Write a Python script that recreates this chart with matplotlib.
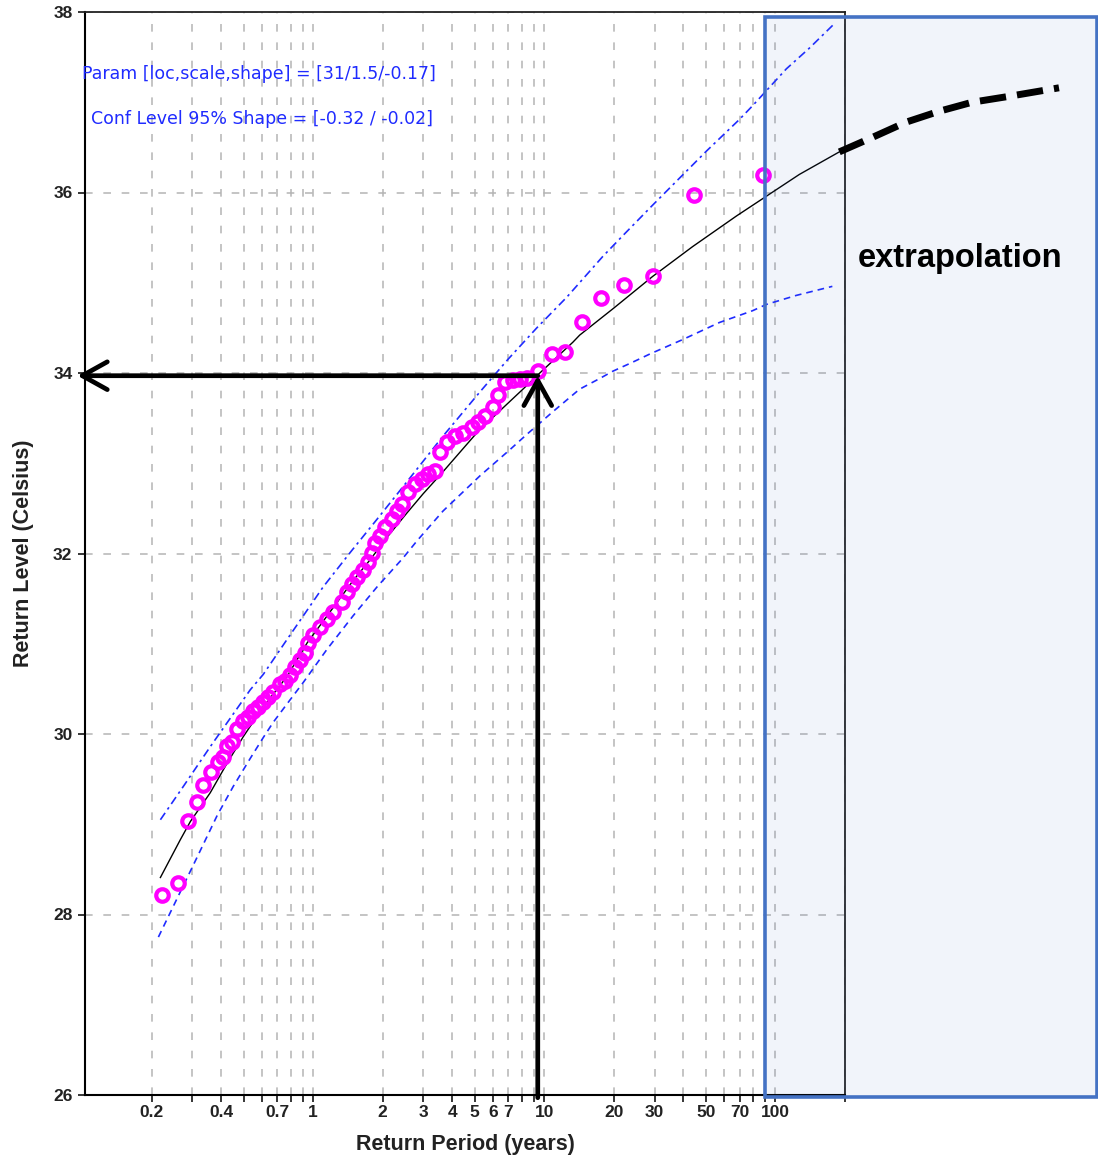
import numpy as np
import matplotlib
matplotlib.use("Agg")
import matplotlib.pyplot as plt
from matplotlib.patches import Rectangle

plt.rcParams['font.family'] = ['Liberation Sans', 'DejaVu Sans']

# ---------------- data ----------------
# observed return levels (empirical return period in years, level in Celsius)
obs_period = [0.2228, 0.2611, 0.2884, 0.3154, 0.3347, 0.3625, 0.3887, 0.4086, 0.4250,
              0.4468, 0.4695, 0.4984, 0.5238, 0.5506, 0.5787, 0.6081, 0.6392, 0.6719,
              0.7200, 0.7568, 0.7955, 0.8360, 0.8787, 0.9235, 0.9515, 1.000, 1.072,
              1.149, 1.220, 1.335, 1.403, 1.474, 1.549, 1.644, 1.728, 1.798, 1.853,
              1.947, 2.046, 2.194, 2.306, 2.424, 2.573, 2.758, 2.957, 3.139, 3.365,
              3.537, 3.792, 4.106, 4.445, 4.861, 5.161, 5.534, 5.993, 6.298, 6.751,
              7.311, 7.839, 8.403, 9.374, 10.78, 12.27, 14.52, 17.54, 22.05, 29.43,
              44.24, 88.76]
obs_level = [28.22, 28.35, 29.04, 29.25, 29.43, 29.58, 29.69, 29.75, 29.87,
             29.91, 30.06, 30.14, 30.19, 30.25, 30.30, 30.36, 30.41, 30.46,
             30.55, 30.59, 30.65, 30.74, 30.82, 30.90, 31.01, 31.10, 31.19,
             31.27, 31.35, 31.46, 31.57, 31.66, 31.74, 31.82, 31.91, 32.01, 32.12,
             32.19, 32.29, 32.38, 32.47, 32.55, 32.68, 32.77, 32.82, 32.88, 32.91,
             33.12, 33.23, 33.30, 33.34, 33.40, 33.46, 33.52, 33.62, 33.76, 33.90,
             33.92, 33.93, 33.94, 34.02, 34.21, 34.23, 34.56, 34.83, 34.97, 35.08,
             35.97, 36.19]

# fitted GEV return level curve
fit_period = [0.2183, 0.2664, 0.2942, 0.3589, 0.4250, 0.4984, 0.6081, 0.7720, 0.9421,
              1.105, 1.489, 1.763, 2.088, 2.547, 2.987, 3.600, 4.445, 5.200, 6.236,
              8.076, 9.563, 13.28, 14.23, 20.0, 29.43, 43.80, 67.85, 87.87, 126.9, 189.0]
fit_level = [28.41, 28.83, 29.03, 29.35, 29.68, 29.97, 30.30, 30.64, 31.01,
             31.25, 31.70, 31.93, 32.18, 32.45, 32.66, 32.89, 33.16, 33.36, 33.55,
             33.82, 34.00, 34.34, 34.42, 34.72, 35.07, 35.40, 35.74, 35.93, 36.20, 36.45]

# 95% confidence bounds
upper_period = [0.2183, 0.2745, 0.3589, 0.5344, 0.6081, 0.7720, 1.105, 1.445, 1.890,
                2.448, 3.644, 5.265, 6.956, 9.281, 12.51, 17.89, 21.83, 29.43, 50.35,
                69.91, 79.56, 111.5, 140.3, 179.8]
upper_level = [29.05, 29.42, 29.86, 30.49, 30.66, 31.05, 31.63, 32.01, 32.38,
               32.74, 33.30, 33.79, 34.15, 34.50, 34.84, 35.29, 35.52, 35.86, 36.46,
               36.81, 36.96, 37.37, 37.60, 37.87]
lower_period = [0.2140, 0.3154, 0.3848, 0.4513, 0.5344, 0.6081, 0.6719, 0.7955, 0.9054,
                1.149, 1.489, 1.890, 2.448, 2.813, 3.644, 5.265, 7.096, 8.403, 10.88,
                14.20, 17.40, 19.80, 24.12, 28.60, 39.66, 57.30, 79.60, 91.45, 123.2,
                176.3]
lower_level = [27.75, 28.64, 29.10, 29.42, 29.73, 29.96, 30.13, 30.38, 30.57,
               30.94, 31.31, 31.63, 31.95, 32.14, 32.47, 32.86, 33.15, 33.32, 33.57,
               33.82, 33.94, 34.02, 34.12, 34.21, 34.37, 34.56, 34.69, 34.76, 34.86,
               34.96]

# hand-drawn extrapolation of the fit beyond the plotted range
extrap_period = [189.0, 262.4, 368.1, 510.9, 709.6, 995.0, 1686.0]
extrap_level = [36.45, 36.61, 36.78, 36.90, 37.00, 37.06, 37.16]

# reading example: 10-year (approx.) return level of 34 C
read_period = 9.37
read_level = 33.97

xtick_major = [0.2, 0.4, 0.7, 1, 2, 3, 4, 5, 6, 7, 10, 20, 30, 50, 70, 100]
xtick_labels = ['0.2', '0.4', '0.7', '1', '2', '3', '4', '5', '6', '7',
                '10', '20', '30', '50', '70', '100']
xtick_minor = [0.3, 0.5, 0.6, 0.8, 0.9, 8, 9, 40, 60, 80, 90, 200]
ytick_vals = [26, 28, 30, 32, 34, 36, 38]

param_text = 'Param [loc,scale,shape] = [31/1.5/-0.17]'
conf_text = 'Conf Level 95% Shape = [-0.32 / -0.02]'

# ---------------- figure ----------------
W, H = 1098, 1156
fig = plt.figure(figsize=(W / 100, H / 100), dpi=100)
ax = fig.add_axes([85 / W, 1 - 1095 / H, 760 / W, 1083 / H])
ax.set_xscale('log')
ax.set_xlim(0.103, 200)
ax.set_ylim(26, 38)

ax.set_xticks(xtick_major)
ax.set_xticklabels(xtick_labels)
ax.set_xticks(xtick_minor, minor=True)
ax.set_xticklabels([''] * len(xtick_minor), minor=True)
ax.set_yticks(ytick_vals)
ax.set_yticklabels([str(v) for v in ytick_vals])

ax.tick_params(axis='both', which='both', direction='out', length=5, width=1.1,
               color='black')
ax.tick_params(axis='x', which='both', pad=2)
ax.tick_params(axis='y', pad=4)
for lab in ax.get_xticklabels() + ax.get_yticklabels():
    lab.set_fontsize(12.5)
    lab.set_fontweight('bold')
    lab.set_color('#222222')

grid_kw = dict(color='#b4b4b4', linestyle=(0, (5, 7)), linewidth=1.1)
ax.grid(which='both', axis='x', **grid_kw)
ax.grid(which='major', axis='y', **grid_kw)
ax.set_axisbelow(True)

for side in ['left', 'bottom']:
    ax.spines[side].set_linewidth(1.5)
    ax.spines[side].set_color('black')
for side in ['top', 'right']:
    ax.spines[side].set_linewidth(1.3)
    ax.spines[side].set_color('#222222')

ax.set_xlabel('Return Period (years)', fontsize=15.5, fontweight='bold',
              color='#222222', labelpad=10)
ax.set_ylabel('Return Level (Celsius)', fontsize=15.5, fontweight='bold',
              color='#222222', labelpad=14)

blue = '#1f2bff'
ax.plot(upper_period, upper_level, color=blue, lw=1.2,
        linestyle=(0, (5, 2.5, 1.5, 2.5)), zorder=2)
ax.plot(lower_period, lower_level, color=blue, lw=1.2,
        linestyle=(0, (4, 3)), zorder=2)
ax.plot(fit_period, fit_level, color='black', lw=1.0, zorder=3)
ax.plot(obs_period, obs_level, linestyle='none', marker='o', ms=9.0,
        mfc='none', mec='#ff00ff', mew=3.0, zorder=4)

ax.text(-0.004, 0.943, param_text, transform=ax.transAxes, color=blue,
        fontsize=12.5, family='DejaVu Sans', ha='left', va='center', zorder=6)
ax.text(0.008, 0.901, conf_text, transform=ax.transAxes, color=blue,
        fontsize=12.5, family='DejaVu Sans', ha='left', va='center', zorder=6)

# arrows reading off the return level
arrow_kw = dict(arrowstyle='->,head_length=0.9,head_width=0.5', lw=3.4,
                color='black', shrinkA=0, shrinkB=0, mutation_scale=20)
ax.annotate('', xy=(0.0955, read_level), xytext=(read_period, read_level),
            arrowprops=arrow_kw, annotation_clip=False, zorder=7)
ax.annotate('', xy=(read_period, read_level), xytext=(read_period, 25.97),
            arrowprops=arrow_kw, annotation_clip=False, zorder=7)

# extrapolation region
x0 = (765 - 85) / 760
x1 = (1096.5 - 85) / 760
y0 = (1095 - 1097) / 1083
y1 = (1095 - 17) / 1083
rect = Rectangle((x0, y0), x1 - x0, y1 - y0, transform=ax.transAxes,
                 facecolor=(0.27, 0.45, 0.77, 0.075), edgecolor='#4472c4',
                 linewidth=2.6, clip_on=False, zorder=5)
ax.add_patch(rect)

ax.plot(extrap_period, extrap_level, color='black', lw=5.0,
        linestyle=(0, (3.8, 1.6)), clip_on=False, zorder=6, solid_capstyle='butt')

fig.text(858 / W, 1 - 258 / H, 'extrapolation', fontsize=23.5,
         fontweight='bold', color='black', ha='left', va='center')

fig.savefig('out.png', dpi=100)
